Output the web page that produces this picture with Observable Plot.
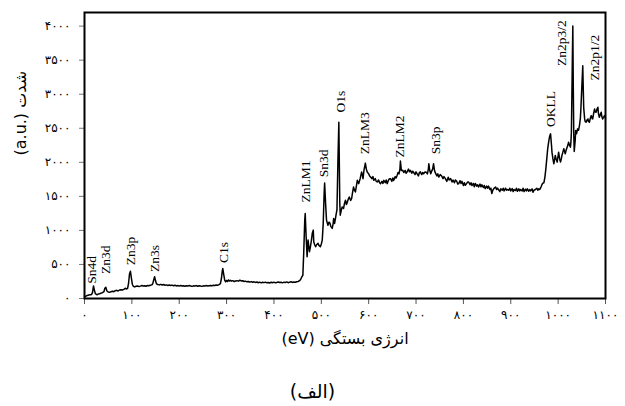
<!DOCTYPE html>
<html>
<head>
<meta charset="utf-8">
<script src="https://cdn.jsdelivr.net/npm/d3@7"></script>
<script src="https://cdn.jsdelivr.net/npm/@observablehq/plot@0.6"></script>
<style>
  html, body { margin: 0; padding: 0; background: #fff; }
  #chart { width: 625px; }
  #cap { width: 625px; text-align: center; font-family: "DejaVu Sans", sans-serif; font-weight: normal; font-size: 19px; line-height: 24px; padding-top: 19px; }
</style>
</head>
<body>
<div id="chart"></div>
<div id="cap" dir="rtl">(الف)</div>
<script>
// XPS survey spectrum: [binding energy (eV), intensity (a.u.)]
const spectrum = [
[0,20],[3,35],[6,45],[9,50],[12,55],[15,60],[17,90],[19,185],[21,120],[23,70],[26,55],[29,65],[32,70],[35,80],[38,85],[41,100],[43,150],[45,165],[47,115],[50,95],[53,90],[56,100],[59,105],[62,100],[65,115],[68,120],[71,110],[74,125],[77,130],[80,125],[83,135],[86,150],[89,140],[91,150],[93,220],[95,360],[97,400],[99,300],[101,210],[103,180],[106,170],
[109,180],[112,185],[115,175],[118,182],[121,190],[124,183],[127,188],[130,180],[133,192],[136,187],[139,195],[142,200],[144,215],[146,270],[148,320],[150,260],[152,215],[155,205],[158,200],[161,208],[164,198],[167,205],[170,195],[173,200],[176,192],[179,198],[182,190],[185,196],[188,188],[191,195],[194,185],[197,190],[200,182],[203,190],[206,184],[209,188],[212,180],[215,186],[218,182],[221,190],[224,184],[227,178],[230,186],[233,182],[236,190],[239,180],[242,186],[245,183],[248,178],[251,186],[254,182],[257,190],[260,184],[263,188],[266,192],[269,186],[272,195],[275,190],[278,198],[281,194],[284,205],[287,220],[289,290],[291,410],[292,440],[294,350],[296,270],[298,245],
[300,265],[302,250],[304,272],[306,258],[308,268],[310,255],[313,262],[316,250],[319,258],[322,262],[325,255],[328,268],[331,258],[334,262],[337,250],[340,255],[343,245],[346,250],[349,240],[352,248],[355,238],[358,245],[361,236],[364,242],[367,232],[370,240],[373,230],[376,238],[379,233],[382,240],[385,230],[388,236],[391,228],[394,238],[397,232],[400,240],[403,230],[406,236],[409,242],[412,234],[415,238],[418,230],[421,240],[424,236],[427,244],[430,232],[433,240],[436,246],[439,236],[442,242],[445,238],[448,246],[451,250],[454,262],[456,275],[459,320],[461,340],[463,700],[465,1150],[466,1248],
[468,900],[470,614],[472,858],[474,740],[475,687],[477,760],[479,850],[481,960],[483,1004],[484,833],[486,790],[488,760],[490,790],[493,810],[495,780],[498,760],[500,800],[502,858],[504,1100],[506,1550],[507,1696],[509,1400],[511,1150],[513,1100],[514,1077],[516,1120],[518,1111],[520,1060],[523,1029],[525,1100],[526,1175],[528,1102],[530,1180],[531,1224],[533,1300],[535,2000],[537,2588],[538,2000],[539,1400],[540,1224],[542,1290],[544,1345],[547,1322],[549,1400],[551,1443],[553,1380],[554,1395],[557,1460],[559,1491],[562,1440],[564,1468],[566,1560],[568,1637],[570,1590],[572,1564],[574,1650],[576,1735],[578,1700],[579,1687],[582,1760],[585,1857],[587,1800],[588,1760],[590,1880],[593,1988],[595,1900],[597,1857],[600,1830],[602,1800],[604,1784],[607,1760],[609,1790],[611,1735],[614,1760],[616,1720],[618,1711],[621,1740],[623,1700],[625,1687],[628,1720],[630,1690],[632,1735],[635,1700],[637,1740],[639,1687],[642,1740],[644,1760],[646,1760],[649,1720],[651,1770],[653,1735],[656,1790],[658,1770],[660,1808],[662,1850],[664,1830],[666,1900],[667,2018],[669,1880],
[672,1882],[674,1850],[677,1880],[679,1840],[681,1857],[684,1900],[686,1860],[688,1882],[691,1840],[693,1870],[695,1850],[698,1820],[700,1860],[702,1833],[705,1800],[707,1850],[709,1860],[712,1820],[714,1850],[716,1833],[719,1860],[722,1850],[724,1830],[726,1900],[727,1979],[729,1880],[731,1833],[733,1870],[735,1900],[737,1979],[739,1880],[741,1840],[744,1800],[746,1830],[748,1784],[751,1820],[754,1800],[757,1760],[759,1790],[762,1760],[765,1720],[768,1780],[770,1740],[773,1760],[776,1711],[778,1740],[781,1700],[783,1740],[786,1720],[788,1680],[790,1687],[793,1730],[795,1690],[797,1720],[800,1660],[802,1700],[804,1662],[807,1690],[809,1711],[811,1711],[814,1670],[816,1700],[818,1660],[821,1690],[823,1640],[825,1690],[828,1650],[830,1670],[832,1637],[835,1680],[837,1640],[839,1670],[842,1630],[844,1660],[846,1614],[849,1650],[851,1620],[853,1650],[856,1600],[858,1620],[860,1541],[862,1590],[865,1620],[868,1637],[870,1600],[872,1620],[874,1600],[877,1570],[879,1610],[882,1589],[884,1620],[886,1580],[889,1620],[891,1590],[893,1600],[896,1590],[898,1620],[900,1580],[903,1615],[905,1570],[907,1600],[910,1585],[912,1620],[914,1575],[917,1610],[919,1580],[921,1600],[924,1580],[926,1620],[928,1570],[931,1605],[933,1580],[935,1610],[938,1575],[940,1600],[942,1580],[945,1610],[947,1560],[949,1590],[952,1600],[955,1620],[957,1590],[959,1610],[961,1600],
[964,1640],[967,1690],[970,1700],[972,1780],[974,1900],[976,2050],[978,2200],[980,2300],[982,2380],[984,2418],[986,2250],[987,2149],[989,2050],[991,1979],[993,2060],[994,2101],[996,2040],[998,2003],[1000,2100],[1001,2149],[1003,2060],[1005,2003],[1007,2060],[1008,2101],[1010,2150],[1012,2199],[1014,2150],[1015,2126],[1017,2180],[1019,2222],[1021,2260],[1022,2295],[1024,2250],[1026,2222],[1027,2300],[1028,2442],[1030,3500],[1031,4000],[1032,3100],[1033,2400],[1034,2160],[1036,2320],[1037,2466],[1039,2420],[1041,2491],[1043,2470],[1045,2540],[1047,2650],[1048,2784],[1050,3100],[1052,3417],[1053,3100],[1054,2800],[1056,2637],[1057,2600],[1059,2588],[1061,2620],[1063,2637],[1064,2600],[1066,2588],[1068,2650],[1070,2686],[1072,2640],[1073,2637],[1075,2720],[1077,2784],[1078,2740],[1080,2735],[1082,2780],[1084,2808],[1085,2720],[1087,2661],[1089,2700],[1091,2735],[1092,2680],[1094,2637],[1096,2660],[1098,2686],[1100,2650]
];

// Peak annotations
const peakNames  = ["Sn4d","Zn3d","Zn3p","Zn3s","C1s","ZnLM1","Sn3d","O1s","ZnLM3","ZnLM2","Sn3p","OKLL","Zn2p3/2","Zn2p1/2"];
const peakEnergy = [16, 44, 97, 148, 293, 466, 505, 541, 592, 666, 742, 984, 1008, 1077];
const peakLabelY = [215, 360, 490, 390, 520, 1410, 1780, 2730, 2120, 2070, 2120, 2520, 3415, 3200];

// Ticks
const xTicks = [0,100,200,300,400,500,600,700,800,900,1000,1100];
const yTicks = [0,500,1000,1500,2000,2500,3000,3500,4000];

const xLabel = "(eV) انرژی بستگی";
const yLabel = "(a.u.) شدت";

const faDigits = "۰۱۲۳۴۵۶۷۸۹";
const fa = d => String(d).replace(/\d/g, c => faDigits[+c]);

const peaks = peakNames.map((name, i) => ({name, x: peakEnergy[i], y: peakLabelY[i]}));

const chart = Plot.plot({
  width: 625,
  height: 360,
  marginLeft: 84,
  marginRight: 20,
  marginTop: 12,
  marginBottom: 62,
  style: {fontFamily: "DejaVu Sans, sans-serif", fontSize: "12px", background: "white", color: "black"},
  x: {domain: [0, 1100]},
  y: {domain: [0, 4200]},
  marks: [
    Plot.axisX({ticks: xTicks, tickFormat: fa, tickSize: 6, tickPadding: 6, label: null, stroke: "#555", fontSize: 12}),
    Plot.axisY({ticks: yTicks, tickFormat: fa, tickSize: 5, tickPadding: 9, label: null, stroke: "#777", fontSize: 12}),
    Plot.line(spectrum, {x: d => d[0], y: d => d[1], stroke: "black", strokeWidth: 1.5}),
    Plot.text(peaks, {x: "x", y: "y", text: "name", rotate: -90, textAnchor: "start",
      fontFamily: "Liberation Serif, serif", fontSize: 13.5, fill: "black"}),
    Plot.frame({stroke: "black", strokeWidth: 2}),
    Plot.text([xLabel], {frameAnchor: "bottom", dy: 45, text: d => d, fontSize: 16, fill: "black"}),
    Plot.text([yLabel], {frameAnchor: "left", dx: -64, text: d => d, rotate: -90, fontSize: 16, fill: "black"})
  ]
});
document.getElementById("chart").appendChild(chart);
</script>
</body>
</html>
